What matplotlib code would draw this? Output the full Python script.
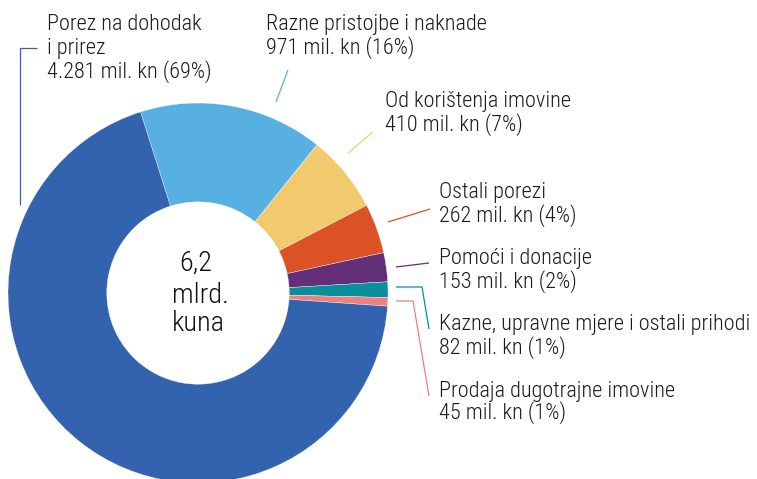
import matplotlib
matplotlib.use("Agg")
import matplotlib.pyplot as plt
from matplotlib import font_manager as fm

# ---- data ----
categories = ["Razne pristojbe i naknade", "Od korištenja imovine", "Ostali porezi",
              "Pomoći i donacije", "Kazne, upravne mjere i ostali prihodi",
              "Prodaja dugotrajne imovine", "Porez na dohodak\ni prirez"]
values = [971, 410, 262, 153, 82, 45, 4281]
value_labels = ["971 mil. kn (16%)", "410 mil. kn (7%)", "262 mil. kn (4%)",
                "153 mil. kn (2%)", "82 mil. kn (1%)", "45 mil. kn (1%)",
                "4.281 mil. kn (69%)"]
colors = ["#58b0e2", "#f2ca6e", "#db5226", "#632f78", "#088f9b", "#f08080", "#3363ae"]
center_lines = ["6,2", "mlrd.", "kuna"]

# pick a narrow font if one is installed
fams = {}
for f in fm.fontManager.ttflist:
    fams.setdefault(f.name, set()).add(str(f.stretch))
font_name, stretch = "DejaVu Sans", "normal"
for cand in ["Roboto Condensed", "Open Sans Condensed", "Liberation Sans Narrow",
             "DejaVu Sans Condensed"]:
    if cand in fams:
        font_name, stretch = cand, "normal"
        break
else:
    if "condensed" in fams.get("DejaVu Sans", set()) or "semi-condensed" in fams.get("DejaVu Sans", set()):
        font_name, stretch = "DejaVu Sans", "condensed"
    elif "Roboto" in fams and any(s != "normal" for s in fams["Roboto"]):
        font_name, stretch = "Roboto", "condensed"

plt.rcParams["font.family"] = [font_name, "DejaVu Sans"]
plt.rcParams["font.stretch"] = stretch
plt.rcParams["font.weight"] = "light"

W, H = 757, 479
fig = plt.figure(figsize=(W / 100, H / 100), dpi=100)
ax = fig.add_axes([0, 0, 1, 1])

cx, cy = 198, H - 293
R = 190
ax.pie(values, colors=colors, startangle=107.6, counterclock=False,
       radius=R, center=(cx, cy), frame=True,
       wedgeprops=dict(width=R * 0.52, edgecolor="white", linewidth=0.25))
ax.set_xlim(0, W)
ax.set_ylim(0, H)
ax.set_aspect("equal")
ax.axis("off")

# fit font size so that a reference label has the width seen in the chart
renderer = fig.canvas.get_renderer()
probe = ax.text(0, 0, categories[1], fontsize=15)
w15 = probe.get_window_extent(renderer).width
probe.remove()
FS = 15 * 190.0 / w15
FS = min(FS, 16)
CFS = FS * 1.28

for ln, yb, dx in zip(center_lines, [271, 303, 331], [-2, 2, 0]):
    ax.text(cx + dx, H - yb, ln, ha="center", va="baseline", fontsize=CFS,
            color="#111111")

def label(x, y_base, lines, step=23.5):
    for i, ln in enumerate(lines):
        ax.text(x, H - (y_base + i * step), ln, ha="left", va="baseline",
                fontsize=FS, color="#1a1a1a")

label(47, 30, ["Porez na dohodak", "i prirez", value_labels[6]], step=24)
label(266, 30, [categories[0], value_labels[0]])
label(385, 107, [categories[1], value_labels[1]])
label(439, 198, [categories[2], value_labels[2]])
label(439, 264, [categories[3], value_labels[3]])
label(439, 330, [categories[4], value_labels[4]])
label(439, 397, [categories[5], value_labels[5]], step=22)

def leader(pts, color):
    xs = [p[0] for p in pts]
    ys = [H - p[1] for p in pts]
    ax.plot(xs, ys, color=color, linewidth=0.9, solid_capstyle="butt")

leader([(37, 48), (20, 48), (20, 205)], colors[6])
leader([(288, 70), (276, 102)], colors[0])
leader([(373, 132), (348, 153)], colors[1])
leader([(430, 209), (388, 222)], colors[2])
leader([(429, 263), (396, 267)], colors[3])
leader([(396, 287), (422, 287), (429, 329)], colors[4])
leader([(396, 301), (413, 301), (429, 396)], colors[5])

fig.savefig("out.png", dpi=100)
